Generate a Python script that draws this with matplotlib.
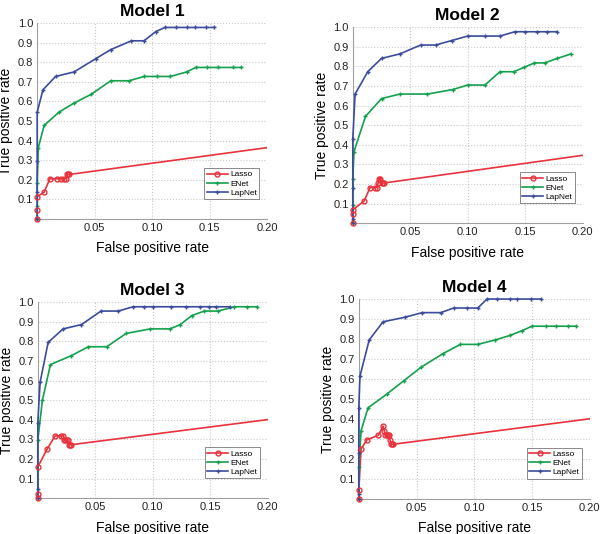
import matplotlib
matplotlib.use("Agg")
import matplotlib.pyplot as plt

plt.rcParams['font.family'] = ['Liberation Sans', 'DejaVu Sans']

RED = '#e8323c'
GREEN = '#14a04c'
BLUE = '#3c4c9c'

# Model 1
m1_lasso_fpr = [0, 0, 0, 0.006, 0.011, 0.017, 0.021, 0.023, 0.025, 0.026, 0.027, 0.028, 1.0]
m1_lasso_tpr = [0, 0.045, 0.114, 0.136, 0.205, 0.205, 0.205, 0.205, 0.205, 0.227, 0.227, 0.227, 1.0]
m1_enet_fpr = [0, 0, 0, 0.001, 0.006, 0.019, 0.032, 0.047, 0.064, 0.080, 0.093, 0.104, 0.116,
               0.130, 0.138, 0.148, 0.157, 0.170, 0.177]
m1_enet_tpr = [0, 0.068, 0.182, 0.364, 0.477, 0.545, 0.591, 0.636, 0.705, 0.705, 0.727, 0.727, 0.727,
               0.750, 0.773, 0.773, 0.773, 0.773, 0.773]
m1_lap_fpr = [0, 0, 0, 0, 0.005, 0.016, 0.032, 0.051, 0.064, 0.082, 0.093, 0.103, 0.111,
              0.121, 0.130, 0.137, 0.147, 0.154]
m1_lap_tpr = [0, 0.136, 0.295, 0.545, 0.659, 0.727, 0.750, 0.818, 0.864, 0.909, 0.909, 0.955, 0.977,
              0.977, 0.977, 0.977, 0.977, 0.977]

# Model 2
m2_lasso_fpr = [0, 0, 0, 0.010, 0.015, 0.019, 0.021, 0.022, 0.023, 0.024, 0.025, 0.026, 0.027, 1.0]
m2_lasso_tpr = [0, 0.045, 0.068, 0.114, 0.182, 0.182, 0.182, 0.205, 0.227, 0.227, 0.205, 0.205, 0.205, 1.0]
m2_enet_fpr = [0, 0, 0, 0.001, 0.011, 0.025, 0.041, 0.065, 0.087, 0.100, 0.115, 0.128, 0.140,
               0.149, 0.158, 0.167, 0.178, 0.190]
m2_enet_tpr = [0, 0.091, 0.227, 0.364, 0.545, 0.636, 0.659, 0.659, 0.682, 0.705, 0.705, 0.773, 0.773,
               0.795, 0.818, 0.818, 0.841, 0.864]
m2_lap_fpr = [0, 0, 0, 0, 0.002, 0.013, 0.025, 0.041, 0.059, 0.072, 0.086, 0.100, 0.115, 0.128,
              0.141, 0.150, 0.160, 0.169, 0.178]
m2_lap_tpr = [0, 0.023, 0.182, 0.432, 0.659, 0.773, 0.841, 0.864, 0.909, 0.909, 0.932, 0.955, 0.955,
              0.955, 0.977, 0.977, 0.977, 0.977, 0.977]

# Model 3
m3_lasso_fpr = [0, 0, 0, 0.008, 0.015, 0.020, 0.022, 0.023, 0.024, 0.025, 0.026, 0.027, 0.028, 0.029, 1.0]
m3_lasso_tpr = [0, 0.023, 0.159, 0.250, 0.318, 0.318, 0.318, 0.295, 0.295, 0.295, 0.295, 0.273, 0.273, 0.273, 1.0]
m3_enet_fpr = [0, 0, 0.004, 0.011, 0.029, 0.044, 0.060, 0.077, 0.098, 0.115, 0.124, 0.134, 0.145,
               0.157, 0.171, 0.182, 0.191]
m3_enet_tpr = [0, 0.295, 0.500, 0.682, 0.727, 0.773, 0.773, 0.841, 0.864, 0.864, 0.886, 0.932, 0.955,
               0.955, 0.977, 0.977, 0.977]
m3_lap_fpr = [0, 0, 0, 0.002, 0.009, 0.022, 0.038, 0.055, 0.070, 0.083, 0.092, 0.100, 0.116, 0.129,
              0.141, 0.149, 0.155, 0.167]
m3_lap_tpr = [0, 0.045, 0.386, 0.591, 0.795, 0.864, 0.886, 0.955, 0.955, 0.977, 0.977, 0.977, 0.977,
              0.977, 0.977, 0.977, 0.977, 0.977]

# Model 4
m4_lasso_fpr = [0, 0, 0.002, 0.007, 0.017, 0.021, 0.022, 0.023, 0.024, 0.025, 0.026, 0.027, 0.028,
                0.029, 0.030, 1.0]
m4_lasso_tpr = [0, 0.045, 0.250, 0.295, 0.318, 0.364, 0.341, 0.318, 0.318, 0.318, 0.318, 0.295, 0.273,
                0.273, 0.273, 1.0]
m4_enet_fpr = [0, 0, 0.002, 0.008, 0.024, 0.039, 0.054, 0.073, 0.088, 0.103, 0.118, 0.131, 0.141,
               0.150, 0.162, 0.171, 0.181, 0.188]
m4_enet_tpr = [0, 0.159, 0.341, 0.455, 0.523, 0.591, 0.659, 0.727, 0.773, 0.773, 0.795, 0.818, 0.841,
               0.864, 0.864, 0.864, 0.864, 0.864]
m4_lap_fpr = [0, 0, 0, 0, 0.001, 0.009, 0.021, 0.040, 0.055, 0.071, 0.082, 0.094, 0.103, 0.111,
              0.120, 0.131, 0.137, 0.149, 0.158]
m4_lap_tpr = [0, 0.023, 0.227, 0.455, 0.614, 0.795, 0.886, 0.909, 0.932, 0.932, 0.955, 0.955, 0.955,
              1.0, 1.0, 1.0, 1.0, 1.0, 1.0]

titles = ['Model 1', 'Model 2', 'Model 3', 'Model 4']
x_ticks = [0.05, 0.10, 0.15, 0.20]
x_tick_labels = ['0.05', '0.10', '0.15', '0.20']
y_ticks = [0.1, 0.2, 0.3, 0.4, 0.5, 0.6, 0.7, 0.8, 0.9, 1.0]
y_tick_labels = ['0.1', '0.2', '0.3', '0.4', '0.5', '0.6', '0.7', '0.8', '0.9', '1.0']

models = [
    (m1_lasso_fpr, m1_lasso_tpr, m1_enet_fpr, m1_enet_tpr, m1_lap_fpr, m1_lap_tpr),
    (m2_lasso_fpr, m2_lasso_tpr, m2_enet_fpr, m2_enet_tpr, m2_lap_fpr, m2_lap_tpr),
    (m3_lasso_fpr, m3_lasso_tpr, m3_enet_fpr, m3_enet_tpr, m3_lap_fpr, m3_lap_tpr),
    (m4_lasso_fpr, m4_lasso_tpr, m4_enet_fpr, m4_enet_tpr, m4_lap_fpr, m4_lap_tpr),
]

# axes rectangles in figure fractions (left, bottom, width, height)
rects = [
    (0.062, 0.590, 0.383, 0.367),
    (0.588, 0.582, 0.383, 0.367),
    (0.063, 0.067, 0.383, 0.367),
    (0.598, 0.066, 0.385, 0.374),
]

fig = plt.figure(figsize=(6.0, 5.34), dpi=100)

for title, rect, data in zip(titles, rects, models):
    lf, lt, ef, et, pf, pt = data
    ax = fig.add_axes(rect)

    # lasso line runs out to (1, 1), so keep the line clipped but not the markers
    ax.plot(lf, lt, color=RED, lw=1.2, zorder=3)
    vis_f = [f for f in lf if f <= 0.2]
    vis_t = [t for f, t in zip(lf, lt) if f <= 0.2]
    ax.plot(vis_f, vis_t, ls='none', marker='o', ms=3.5, mfc='none', mec=RED, mew=1.0,
            clip_on=False, zorder=4)
    ax.plot([], [], color=RED, lw=1.2, marker='o', ms=3.5, mfc='none', mew=1.0, label='Lasso')

    ax.plot(ef, et, color=GREEN, lw=1.2, marker='+', ms=3.5, mew=1.0, label='ENet',
            clip_on=False, zorder=3)
    ax.plot(pf, pt, color=BLUE, lw=1.2, marker='+', ms=3.0, mew=1.0, label='LapNet',
            clip_on=False, zorder=3)

    ax.set_xlim(0, 0.20)
    ax.set_ylim(0, 1.0)
    ax.set_xticks(x_ticks)
    ax.set_xticklabels(x_tick_labels)
    ax.set_yticks(y_ticks)
    ax.set_yticklabels(y_tick_labels)
    ax.tick_params(length=0, labelsize=8, pad=3, colors='#222222')
    ax.grid(True, ls=':', color='#c8c8c8', lw=0.8)
    for side in ['top', 'right']:
        ax.spines[side].set_visible(False)
    for side in ['left', 'bottom']:
        ax.spines[side].set_color('#a0a0a0')
        ax.spines[side].set_linewidth(0.8)

    ax.set_title(title, fontsize=12.5, fontweight='bold', pad=5)
    ax.set_xlabel('False positive rate', fontsize=10, labelpad=6)
    ax.set_ylabel('True positive rate', fontsize=10, labelpad=3)

    leg = ax.legend(loc='lower right', bbox_to_anchor=(0.985, 0.08), fontsize=6,
                    frameon=True, fancybox=False, handlelength=2.5, borderpad=0.3,
                    labelspacing=0.15, handletextpad=0.3)
    leg.get_frame().set_edgecolor('#555555')
    leg.get_frame().set_linewidth(0.6)
    leg.set_zorder(5)

fig.savefig('out.png', dpi=100)
